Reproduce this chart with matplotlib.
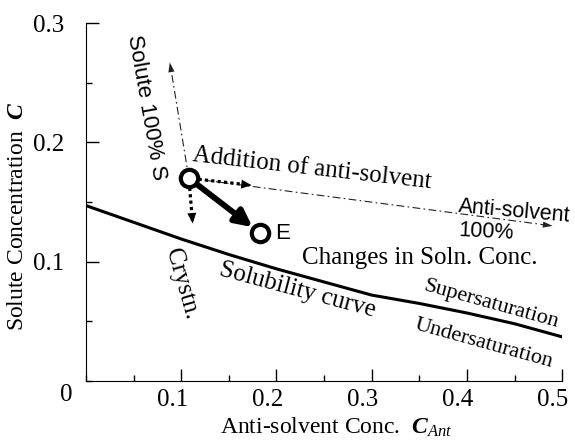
import matplotlib
matplotlib.use("Agg")
from matplotlib import pyplot as plt
from matplotlib.ticker import MultipleLocator
from matplotlib.transforms import ScaledTranslation

plt.rcParams['font.family'] = 'Liberation Serif'
plt.rcParams['mathtext.fontset'] = 'custom'
plt.rcParams['mathtext.rm'] = 'Liberation Serif'
plt.rcParams['mathtext.it'] = 'Liberation Serif:italic'
plt.rcParams['mathtext.bf'] = 'Liberation Serif:italic:bold'

# solubility curve
curve_x = [0.0, 0.05, 0.1, 0.15, 0.2, 0.25, 0.3, 0.35, 0.4, 0.45, 0.5]
curve_c = [0.147, 0.133, 0.119, 0.106, 0.094, 0.083, 0.072, 0.065, 0.057, 0.048, 0.037]

# start point S and end point E
point_s = (0.108, 0.170)
point_e = (0.183, 0.124)

# ends of the dash-dot guide lines (solute 100% / anti-solvent 100%)
solute_end = (0.088, 0.267)
anti_end = (0.490, 0.130)

# ends of the dotted component arrows
dot_right_end = (0.174, 0.164)
dot_down_end = (0.112, 0.132)

x_ticks = [0.1, 0.2, 0.3, 0.4, 0.5]
y_ticks = [0.1, 0.2, 0.3]


def styled_arrow(ax, start, end, lw, ls, color, head, shrink_a):
    # shaft in the given line style, head drawn solid on top
    ax.annotate('', xy=end, xytext=start,
                arrowprops=dict(arrowstyle='-', color=color, lw=lw, linestyle=ls,
                                shrinkA=shrink_a, shrinkB=2, capstyle='butt'),
                zorder=3)
    back = (end[0] - 0.02 * (end[0] - start[0]), end[1] - 0.02 * (end[1] - start[1]))
    ax.annotate('', xy=end, xytext=back,
                arrowprops=dict(arrowstyle='-|>,' + head, color=color, lw=0.01,
                                shrinkA=0, shrinkB=0),
                zorder=3)


fig = plt.figure(figsize=(5.75, 4.45), dpi=100)
ax = fig.add_axes([0.1496, 0.1438, 0.828, 0.8045])

ax.plot(curve_x, curve_c, color='black', lw=2.2, zorder=2)

# guide lines
for end in (solute_end, anti_end):
    styled_arrow(ax, point_s, end, 0.8, (0, (7, 3, 1.5, 3)), '#222222',
                 'head_length=0.7,head_width=0.22', 0)

# dotted component arrows
for end in (dot_right_end, dot_down_end):
    styled_arrow(ax, point_s, end, 2.3, (0, (1, 1)), 'black',
                 'head_length=0.75,head_width=0.32', 7)

# main change S -> E
ax.annotate('', xy=point_e, xytext=point_s,
            arrowprops=dict(arrowstyle='-|>,head_length=1.0,head_width=0.5',
                            color='black', lw=4.2,
                            shrinkA=7, shrinkB=7), zorder=3)

ax.plot([point_s[0], point_e[0]], [point_s[1], point_e[1]], 'o', ms=12.5,
        mfc='white', mec='black', mew=3, ls='none', zorder=4)

sans = 'Liberation Sans'
ax.text(0.063, 0.229, 'Solute 100% S', family=sans, fontsize=16,
        rotation=-80, ha='center', va='center', rotation_mode='anchor')
ax.text(0.199, 0.124, 'E', family=sans, fontsize=16, ha='left', va='center')
ax.text(0.237, 0.178, 'Addition of anti-solvent', fontsize=18,
        rotation=-6.5, ha='center', va='center', rotation_mode='anchor')
ax.text(0.391, 0.146, 'Anti-solvent', family=sans, fontsize=15.5,
        rotation=-5, ha='left', va='center', rotation_mode='anchor')
ax.text(0.391, 0.126, '100%', family=sans, fontsize=15.5,
        rotation=-3, ha='left', va='center', rotation_mode='anchor')
ax.text(0.35, 0.103, 'Changes in Soln. Conc.', fontsize=18,
        ha='center', va='center')
ax.text(0.222, 0.076, 'Solubility curve', fontsize=18,
        rotation=-15, ha='center', va='center', rotation_mode='anchor')
ax.text(0.425, 0.0645, 'Supersaturation', fontsize=16,
        rotation=-15.5, ha='center', va='center', rotation_mode='anchor')
ax.text(0.418, 0.031, 'Undersaturation', fontsize=16,
        rotation=-15.5, ha='center', va='center', rotation_mode='anchor')
ax.text(0.1, 0.081, 'Crystn.', fontsize=18,
        rotation=-74, ha='center', va='center', rotation_mode='anchor')

ax.set_xlim(0, 0.5)
ax.set_ylim(0, 0.3)
ax.set_xticks(x_ticks)
ax.set_yticks(y_ticks)
ax.set_xticklabels([str(v) for v in x_ticks])
ax.set_yticklabels([str(v) for v in y_ticks])
ax.xaxis.set_minor_locator(MultipleLocator(0.05))
ax.yaxis.set_minor_locator(MultipleLocator(0.05))
ax.tick_params(which='both', direction='in', labelsize=18, width=1)
ax.tick_params(which='major', length=9)
ax.tick_params(which='minor', length=4)
ax.tick_params(axis='x', pad=6)
ax.tick_params(axis='y', pad=16)
ax.spines['top'].set_visible(False)
ax.spines['right'].set_visible(False)

# x tick labels sit a little left of their ticks in the original
shift = ScaledTranslation(-9 / 100, 0, fig.dpi_scale_trans)
for lab in ax.get_xticklabels():
    lab.set_transform(lab.get_transform() + shift)

fig.text(66 / 575, 1 - 395 / 445, '0', fontsize=18, ha='center', va='center')

ax.set_xlabel(r'Anti-solvent Conc.  $\mathbf{C}_{\mathit{Ant}}$', fontsize=17)
ax.xaxis.set_label_coords(0.527, -0.098)
ax.set_ylabel(r'Solute Concentration  $\mathbf{C}$', fontsize=17)
ax.yaxis.set_label_coords(-0.122, 0.46)

fig.savefig('out.png', dpi=100)
